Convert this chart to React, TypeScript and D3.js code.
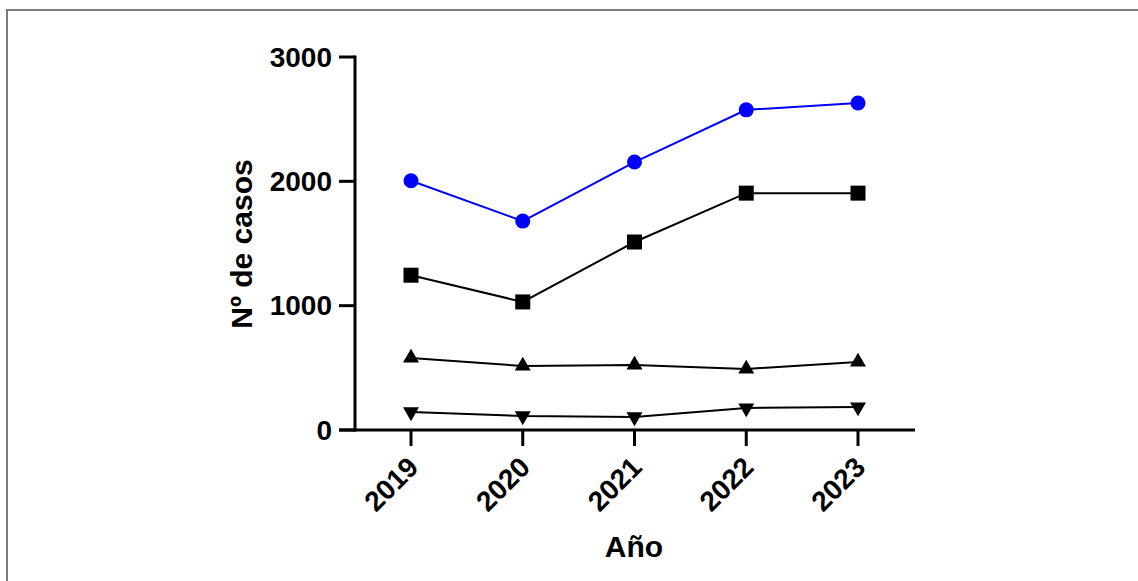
import React from "react";
import * as d3 from "d3";

const years = ["2019", "2020", "2021", "2022", "2023"];
const seriesCircle = [2005, 1680, 2155, 2575, 2630];
const seriesSquare = [1245, 1030, 1512, 1905, 1905];
const seriesUp = [579, 515, 523, 491, 547];
const seriesDown = [145, 113, 105, 177, 185];
const yTicks = [0, 1000, 2000, 3000];

const W = 1138;
const H = 581;
const FONT = "'Liberation Sans', Arial, sans-serif";

export default function App() {
  const x = d3.scalePoint<string>().domain(years).range([411, 858]);
  const y = d3.scaleLinear().domain([0, 3000]).range([430, 57]);
  const line = d3
    .line<number>()
    .x((_, i) => x(years[i]) as number)
    .y((d) => y(d));

  const triUp = d3.symbol().type(d3.symbolTriangle).size(110)();
  const series = [
    { data: seriesCircle, color: "#0000ff", kind: "circle" },
    { data: seriesSquare, color: "#000", kind: "square" },
    { data: seriesUp, color: "#000", kind: "up" },
    { data: seriesDown, color: "#000", kind: "down" },
  ];

  const axisX = 355;
  const axisY = 430;

  return (
    <svg
      width={W}
      height={H}
      style={{ position: "absolute", left: 0, top: 0, background: "#fff" }}
    >
      <rect x={7} y={10} width={1200} height={700} fill="#fff" stroke="#7a7a7a" strokeWidth={2} />
      {series.map((s, si) => (
        <g key={si}>
          <path d={line(s.data) || ""} fill="none" stroke={s.color} strokeWidth={2} />
          {s.data.map((v, i) => {
            const cx = x(years[i]) as number;
            const cy = y(v);
            if (s.kind === "circle")
              return <circle key={i} cx={cx} cy={cy} r={7.5} fill={s.color} />;
            if (s.kind === "square")
              return <rect key={i} x={cx - 7.5} y={cy - 7.5} width={15} height={15} fill={s.color} />;
            if (s.kind === "up")
              return <path key={i} d={triUp || ""} transform={`translate(${cx},${cy})`} fill={s.color} />;
            return (
              <path key={i} d={triUp || ""} transform={`translate(${cx},${cy}) rotate(180)`} fill={s.color} />
            );
          })}
        </g>
      ))}
      {/* y axis */}
      <line x1={axisX} x2={axisX} y1={y(3000) - 1.5} y2={axisY + 1.5} stroke="#000" strokeWidth={3} />
      {yTicks.map((t) => (
        <g key={t}>
          <line x1={axisX - 16} x2={axisX} y1={y(t)} y2={y(t)} stroke="#000" strokeWidth={3} />
          <text
            x={axisX - 23}
            y={y(t)}
            dy="0.35em"
            textAnchor="end"
            fontFamily={FONT}
            fontWeight="bold"
            fontSize={28}
            fill="#000"
          >
            {t}
          </text>
        </g>
      ))}
      {/* x axis */}
      <line x1={axisX - 16} x2={915} y1={axisY} y2={axisY} stroke="#000" strokeWidth={3} />
      {years.map((yr) => {
        const px = x(yr) as number;
        return (
          <g key={yr}>
            <line x1={px} x2={px} y1={axisY} y2={axisY + 16} stroke="#000" strokeWidth={3} />
            <text
              transform={`translate(${px + 2},${axisY + 32}) rotate(-45)`}
              textAnchor="end"
              dy="0.35em"
              fontFamily={FONT}
              fontWeight="bold"
              fontSize={28}
              fill="#000"
            >
              {yr}
            </text>
          </g>
        );
      })}
      <text
        x={634}
        y={557}
        textAnchor="middle"
        fontFamily={FONT}
        fontWeight="bold"
        fontSize={30}
        fill="#000"
      >
        Año
      </text>
      <text
        transform={`translate(252,244) rotate(-90)`}
        textAnchor="middle"
        fontFamily={FONT}
        fontWeight="bold"
        fontSize={30}
        fill="#000"
      >
        Nº de casos
      </text>
    </svg>
  );
}
